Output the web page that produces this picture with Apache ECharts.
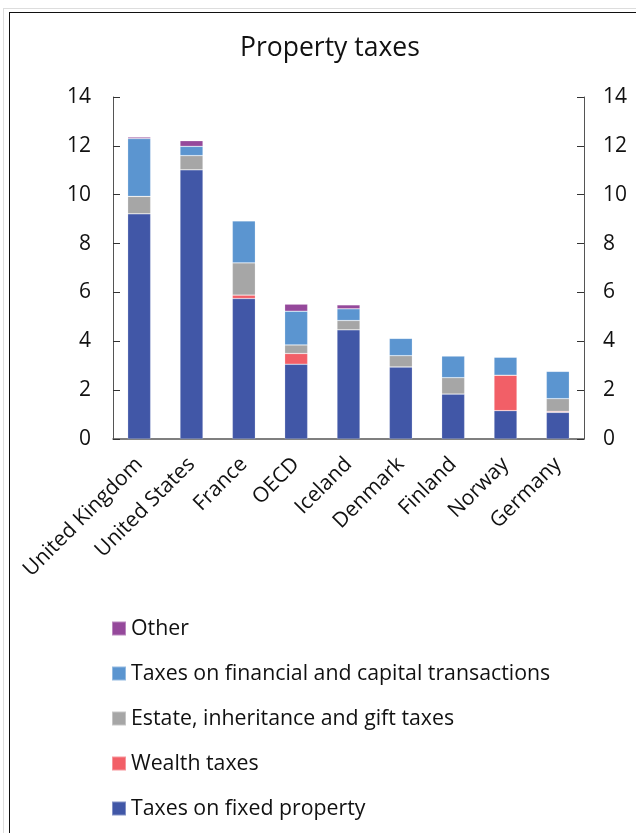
<!doctype html>
<html>
<head>
<meta charset="utf-8">
<title>Property taxes</title>
<script src="https://cdn.jsdelivr.net/npm/echarts@6/dist/echarts.min.js"></script>
<style>
    html,body{margin:0;padding:0;background:#fff;}
    #wrap{position:relative;width:636px;height:833px;overflow:hidden;}
    .outer{position:absolute;left:3px;top:8px;width:700px;height:900px;border:1px solid #ddd;}
    .frame{position:absolute;left:9px;top:12px;width:700px;height:900px;border:1px solid #111;}
    #chart{position:absolute;left:0;top:0;width:636px;height:833px;}
</style>
</head>
<body>
<div id="wrap">
    <div class="outer"></div>
    <div class="frame"></div>
    <div id="chart"></div>
</div>
<script type="text/javascript">
    var countries = ['United Kingdom','United States','France','OECD','Iceland','Denmark','Finland','Norway','Germany'];
    var yTicks = [0,2,4,6,8,10,12,14];

    // bottom to top of each stack
    var fixedProperty = [9.22, 11.02, 5.75, 3.06, 4.47, 2.95, 1.84, 1.16, 1.09];
    var wealthTaxes   = [0, 0, 0.14, 0.44, 0, 0, 0, 1.45, 0.04];
    var estateTaxes   = [0.71, 0.58, 1.32, 0.35, 0.38, 0.46, 0.67, 0, 0.52];
    var financialTx   = [2.37, 0.38, 1.72, 1.38, 0.48, 0.71, 0.89, 0.74, 1.12];
    var otherTaxes    = [0.06, 0.23, 0, 0.29, 0.16, 0, 0, 0, 0];

    var names = ['Taxes on fixed property','Wealth taxes','Estate, inheritance and gift taxes','Taxes on financial and capital transactions','Other'];
    var colors = ['#4157a7','#f25f67','#a6a6a6','#5b95d0','#95499b'];
    var values = [fixedProperty, wealthTaxes, estateTaxes, financialTx, otherTaxes];

    var font = '"Open Sans", "Noto Sans", sans-serif';

    function valueAxis(pos){
        return {
            type:'value', position:pos, min:yTicks[0], max:yTicks[yTicks.length-1], interval:2,
            axisLine:{show:true, lineStyle:{color:'#555', width:1}},
            axisTick:{show:true, inside:true, length:7, lineStyle:{color:'#333'}},
            splitLine:{show:false},
            axisLabel:{color:'#111', fontSize:21, fontFamily:font, margin: pos=='left' ? 22 : 19}
        };
    }

    var series = [];
    for (var i = 0; i < names.length; i++) {
        series.push({
            name:names[i], type:'bar', stack:'total', barWidth:23,
            itemStyle:{color:colors[i], borderColor:'rgba(255,255,255,0.35)', borderWidth:0.6},
            data:values[i]
        });
    }

    var myChart = echarts.init(document.getElementById('chart'), null, {renderer:'canvas'});
    var option = {
        animation:false,
        title:{
            text:'Property taxes', left:235, top:30,
            textStyle:{fontFamily:font, fontSize:26.5, fontWeight:'normal', color:'#111'}
        },
        grid:{left:113, right:52, top:97, height:342},
        legend:{
            orient:'vertical', left:106, top:613,
            data:names.slice().reverse(),
            icon:'rect', itemWidth:14, itemHeight:14, itemGap:24,
            textStyle:{fontFamily:font, fontSize:21.3, color:'#111', lineHeight:21}
        },
        xAxis:{
            type:'category', data:countries,
            axisLine:{show:true, lineStyle:{color:'#555', width:1.5}},
            axisTick:{show:false},
            axisLabel:{rotate:45, interval:0, fontSize:21, fontFamily:font, color:'#111', margin:22}
        },
        yAxis:[valueAxis('left'), valueAxis('right')],
        series:series
    };
    myChart.setOption(option);
</script>
</body>
</html>
